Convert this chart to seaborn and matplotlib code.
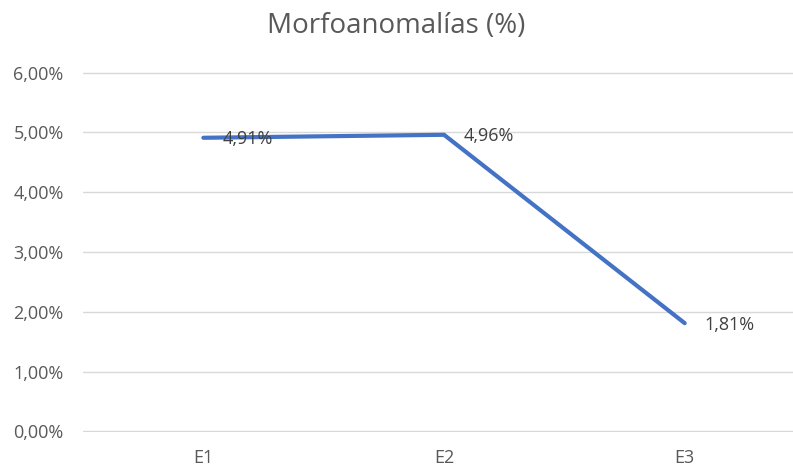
import matplotlib
matplotlib.use("Agg")
import matplotlib.pyplot as plt
import seaborn as sns
import pandas as pd
from matplotlib.ticker import FuncFormatter

categories = ["E1", "E2", "E3"]
values = [4.91, 4.96, 1.81]
title = "Morfoanomalías (%)"

sns.set_theme(style="white")
plt.rcParams['font.family'] = ['Open Sans', 'DejaVu Sans']

df = pd.DataFrame({"cat": categories, "val": values})

fig = plt.figure(figsize=(7.93, 4.69), dpi=100)
ax = fig.add_axes([0.1047, 0.0789, 0.8953, 0.7676])
sns.lineplot(data=df, x="cat", y="val", ax=ax, color="#4472C4", linewidth=3.0,
             solid_capstyle="round", solid_joinstyle="round", sort=False)

ax.set_ylim(-0.01, 6.01)
ax.set_xlim(-0.5, 2.45)
ax.set_yticks([0, 1, 2, 3, 4, 5, 6])
ax.yaxis.set_major_formatter(FuncFormatter(lambda v, p: f"{v:.2f}".replace(".", ",") + "%"))
ax.grid(axis="y", color="#D9D9D9", linewidth=1.0)
ax.grid(axis="x", visible=False)
ax.set_axisbelow(True)
for s in ax.spines.values():
    s.set_visible(False)
ax.tick_params(axis="both", length=0, labelsize=13, colors="#595959")
ax.tick_params(axis="x", pad=12)
ax.tick_params(axis="y", pad=14)
ax.set_xlabel("")
ax.set_ylabel("")

for i, v in enumerate(values):
    ax.annotate(f"{v:.2f}".replace(".", ",") + "%", (i, v), xytext=(14, -1),
                textcoords="offset points", ha="left", va="center",
                fontsize=13, color="#404040")

fig.text(0.5, 0.944, title, ha="center", va="center", fontsize=20, color="#595959")

fig.savefig("out.png", dpi=100)
